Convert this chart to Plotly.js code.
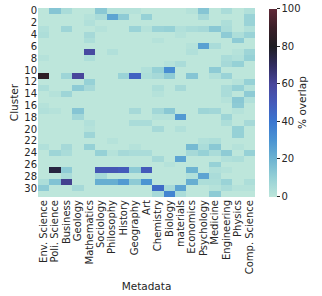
<!DOCTYPE html>
<html>
<head>
<meta charset="utf-8">
<script src="https://cdn.plot.ly/plotly-3.0.1.min.js"></script>
<style>html,body{margin:0;padding:0;background:#fff;}#chart{width:322px;height:296px;}</style>
</head>
<body>
<div id="chart"></div>
<script>
const categories = ["Env. Science","Poli. Science","Business","Geology","Mathematics","Sociology","Philosophy","History","Geography","Art","Chemistry","Biology","materials","Economics","Psychology","Medicine","Engineering","Physics","Comp. Science"];
const clusters = Array.from({length: 32}, (_, i) => i);
const yTicks = [0,2,4,6,8,10,12,14,16,18,20,22,24,26,28,30];
const cbTicks = [0,20,40,60,80,100];

// % overlap per cluster (rows), columns follow `categories`
const r0  = [0,14,5,0,0,13,2,2,2,0,0,0,0,2,14,0,5,0,3];
const r1  = [0,0,0,0,2,5,25,12,0,10,0,0,0,0,6,0,0,0,9];
const r2  = [0,0,0,0,3,0,0,0,0,0,0,0,0,0,0,0,4,0,9];
const r3  = [3,0,8,0,0,2,0,0,9,2,9,10,3,5,6,13,5,0,3];
const r4  = [4,0,0,0,6,0,0,0,0,0,0,0,2,0,0,0,12,4,9];
const r5  = [0,0,0,0,4,0,0,0,0,0,2,0,0,0,0,0,0,12,0];
const r6  = [0,0,0,0,0,0,0,0,0,0,0,0,0,2,26,5,0,0,0];
const r7  = [0,0,0,0,58,0,3,0,0,0,0,0,0,3,0,0,0,2,8];
const r8  = [2,0,0,0,4,0,0,0,0,0,0,0,0,0,0,0,5,3,10];
const r9  = [0,0,0,0,0,0,0,0,0,0,0,2,5,0,0,0,6,10,0];
const r10 = [0,0,0,0,0,0,0,0,0,3,10,32,0,0,0,12,0,0,0];
const r11 = [85,0,8,60,0,0,0,9,47,4,6,12,0,14,0,3,9,0,0];
const r12 = [0,0,0,0,10,0,0,0,0,0,0,0,0,0,0,0,0,2,10];
const r13 = [4,0,0,12,6,0,0,0,0,0,4,0,6,0,0,0,5,10,2];
const r14 = [0,2,8,0,0,0,0,0,0,0,2,0,0,0,0,0,5,0,12];
const r15 = [0,0,0,0,0,0,0,0,0,0,0,0,0,0,0,0,2,13,3];
const r16 = [2,0,0,0,0,0,0,0,0,0,0,0,0,0,0,0,0,12,0];
const r17 = [3,2,0,14,0,0,0,0,6,0,7,13,0,0,8,7,0,2,0];
const r18 = [0,0,0,7,0,0,0,0,0,0,2,2,28,0,0,0,8,0,0];
const r19 = [0,0,0,0,3,0,0,0,5,5,0,0,0,0,0,0,4,0,6];
const r20 = [0,0,0,0,2,0,0,0,0,0,6,0,3,0,0,0,0,10,0];
const r21 = [0,0,0,0,8,0,0,0,0,0,0,0,0,0,0,0,0,10,0];
const r22 = [0,0,0,0,0,0,2,0,0,0,0,0,0,0,3,4,0,0,0];
const r23 = [3,0,6,0,10,0,0,0,2,0,0,0,0,18,5,13,0,2,0];
const r24 = [0,8,5,0,0,10,2,6,5,5,0,0,0,6,10,5,12,0,10];
const r25 = [0,0,0,0,0,0,0,0,0,0,6,0,25,0,0,0,3,4,0];
const r26 = [0,0,0,0,0,0,0,0,0,0,0,2,0,0,0,10,0,0,0];
const r27 = [0,75,12,0,0,52,52,50,12,50,0,0,0,20,0,3,2,0,0];
const r28 = [0,0,5,0,0,6,0,0,0,0,0,0,0,3,25,5,0,0,0];
const r29 = [4,15,62,0,0,22,22,28,12,30,0,0,0,22,4,4,9,0,4];
const r30 = [12,0,0,6,0,0,0,0,0,0,44,6,25,0,0,2,5,2,2];
const r31 = [0,0,0,0,0,0,0,0,0,0,6,35,5,0,0,12,0,0,0];

const overlap = [r0,r1,r2,r3,r4,r5,r6,r7,r8,r9,r10,r11,r12,r13,r14,r15,r16,r17,r18,r19,r20,r21,r22,r23,r24,r25,r26,r27,r28,r29,r30,r31];

const txt = '#262626';
const colorscale = [
  [0.0,'rgb(189,230,219)'],
  [0.1,'rgb(150,209,214)'],
  [0.2,'rgb(110,180,209)'],
  [0.3,'rgb(75,148,210)'],
  [0.4,'rgb(58,118,208)'],
  [0.5,'rgb(68,90,186)'],
  [0.6,'rgb(72,70,155)'],
  [0.7,'rgb(48,44,95)'],
  [0.8,'rgb(30,29,34)'],
  [0.9,'rgb(58,31,40)'],
  [1.0,'rgb(96,42,56)']
];

const trace = {
  type: 'heatmap',
  z: overlap,
  x: categories,
  y: clusters,
  zmin: 0, zmax: 100,
  colorscale: colorscale,
  xgap: 0, ygap: 0,
  colorbar: {
    x: 1.064, xanchor: 'left', xpad: 0,
    y: 0.5, yanchor: 'middle', ypad: 0,
    len: 0.995, lenmode: 'fraction',
    thickness: 8, thicknessmode: 'pixels',
    outlinewidth: 0,
    tickvals: cbTicks,
    ticks: 'outside', ticklen: 3, tickwidth: 1, tickcolor: txt,
    tickfont: {family: 'DejaVu Sans', size: 10, color: txt},
    title: {text: '% overlap', side: 'right', font: {family: 'DejaVu Sans', size: 10.5, color: txt}}
  }
};

const layout = {
  width: 322, height: 296,
  margin: {l: 38, r: 67, t: 8, b: 99},
  paper_bgcolor: '#fff', plot_bgcolor: '#fff',
  font: {family: 'DejaVu Sans', color: txt},
  xaxis: {
    tickmode: 'array', tickvals: categories, ticktext: categories,
    tickangle: -90, ticks: '', showgrid: false, zeroline: false, showline: false,
    tickfont: {size: 10, color: txt},
    title: {text: 'Metadata', font: {size: 10.5, color: txt}, standoff: 9}
  },
  yaxis: {
    autorange: 'reversed', tickmode: 'array', tickvals: yTicks, ticks: '', showgrid: false, zeroline: false, showline: false,
    tickfont: {size: 10, color: txt},
    title: {text: 'Cluster', font: {size: 10.5, color: txt}, standoff: 3}
  }
};

Plotly.newPlot('chart', [trace], layout, {displayModeBar: false, staticPlot: true});
</script>
</body>
</html>
